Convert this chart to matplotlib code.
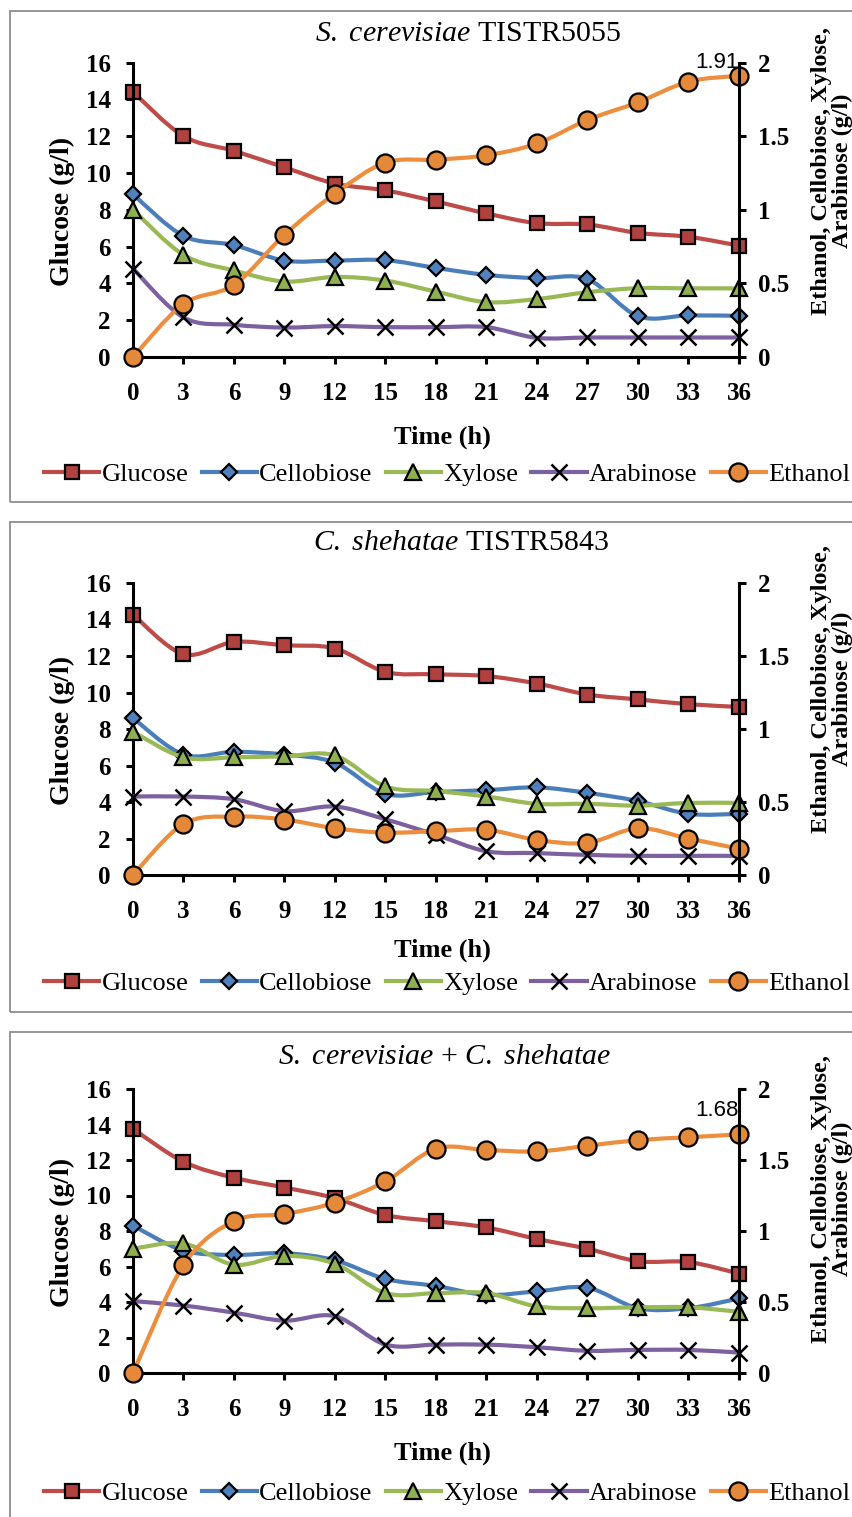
import numpy as np
import matplotlib
matplotlib.use("Agg")
import matplotlib.pyplot as plt
from matplotlib.path import Path
from matplotlib.patches import PathPatch, Rectangle
from matplotlib.lines import Line2D

plt.rcParams['font.family'] = ['Liberation Serif', 'DejaVu Serif']
plt.rcParams['mathtext.fontset'] = 'custom'
plt.rcParams['mathtext.rm'] = 'Liberation Serif'
plt.rcParams['mathtext.it'] = 'Liberation Serif:italic'

# ---- data (g/l) ----
hours = [0, 3, 6, 9, 12, 15, 18, 21, 24, 27, 30, 33, 36]

# S. cerevisiae TISTR5055
sc_glucose = [14.4, 12.0, 11.2, 10.3, 9.42, 9.05, 8.45, 7.8, 7.27, 7.2, 6.74, 6.53, 6.05]
sc_cellobiose = [8.83, 6.58, 6.08, 5.24, 5.24, 5.26, 4.84, 4.46, 4.28, 4.23, 2.22, 2.26, 2.24]
sc_xylose = [8.0, 5.55, 4.7, 4.1, 4.35, 4.15, 3.55, 2.98, 3.15, 3.52, 3.74, 3.73, 3.73]
sc_arabinose = [4.8, 2.15, 1.75, 1.6, 1.68, 1.62, 1.62, 1.62, 1.04, 1.06, 1.06, 1.06, 1.06]
sc_ethanol = [0, 0.36, 0.49, 0.83, 1.11, 1.32, 1.34, 1.37, 1.45, 1.61, 1.73, 1.87, 1.91]

# C. shehatae TISTR5843
cs_glucose = [14.27, 12.1, 12.77, 12.59, 12.41, 11.13, 11.0, 10.9, 10.49, 9.89, 9.62, 9.36, 9.21]
cs_cellobiose = [8.6, 6.6, 6.75, 6.6, 6.15, 4.45, 4.55, 4.65, 4.8, 4.5, 4.05, 3.35, 3.35]
cs_xylose = [7.85, 6.45, 6.45, 6.5, 6.55, 4.85, 4.6, 4.3, 3.9, 3.9, 3.8, 3.95, 3.95]
cs_arabinose = [4.3, 4.3, 4.15, 3.5, 3.75, 3.05, 2.2, 1.3, 1.2, 1.1, 1.05, 1.05, 1.05]
cs_ethanol = [0, 0.35, 0.40, 0.38, 0.32, 0.29, 0.30, 0.31, 0.24, 0.22, 0.32, 0.25, 0.18]

# co-culture
co_glucose = [13.75, 11.9, 11.0, 10.45, 9.85, 8.9, 8.55, 8.2, 7.55, 7.0, 6.3, 6.25, 5.6]
co_cellobiose = [8.3, 6.9, 6.65, 6.75, 6.35, 5.3, 4.9, 4.4, 4.6, 4.8, 3.65, 3.65, 4.2]
co_xylose = [7.0, 7.3, 6.1, 6.6, 6.15, 4.5, 4.5, 4.5, 3.75, 3.65, 3.7, 3.7, 3.45]
co_arabinose = [4.05, 3.8, 3.4, 2.95, 3.2, 1.6, 1.6, 1.6, 1.45, 1.25, 1.3, 1.3, 1.15]
co_ethanol = [0, 0.76, 1.07, 1.12, 1.2, 1.35, 1.58, 1.57, 1.56, 1.6, 1.64, 1.66, 1.68]

series_names = ["Glucose", "Cellobiose", "Xylose", "Arabinose", "Ethanol"]
titles = [r"$\it{S.\ cerevisiae}$ TISTR5055",
          r"$\it{C.\ shehatae}$ TISTR5843",
          r"$\it{S.\ cerevisiae}$ + $\it{C.\ shehatae}$"]
peak_labels = ["1.91", None, "1.68"]

panels_data = [
    [sc_glucose, sc_cellobiose, sc_xylose, sc_arabinose, sc_ethanol],
    [cs_glucose, cs_cellobiose, cs_xylose, cs_arabinose, cs_ethanol],
    [co_glucose, co_cellobiose, co_xylose, co_arabinose, co_ethanol],
]

# ---- styles ----
styles = [
    dict(color="#BE4B48", marker="s", ms=10.5, mfc="#B0413E", mec="black", mew=1.6),
    dict(color="#4A7EBB", marker="D", ms=8.5, mfc="#4F81BD", mec="black", mew=1.6),
    dict(color="#98B954", marker="^", ms=12, mfc="#8FB04F", mec="black", mew=1.6),
    dict(color="#7D60A0", marker="x", ms=12, mfc="black", mec="black", mew=1.8),
    dict(color="#EC8E3D", marker="o", ms=13, mfc="#E4883A", mec="black", mew=1.6),
]

# ---- layout in pixels ----
W, H = 853, 1517
AX_L, AX_R = 133, 739
layout = [
    dict(box=(11, 502), y16=62.5, y0=357, title=(468, 34), xlab=437, leg=474,
         ylab_l=211, ylab_r=171, peak_off=9.5),
    dict(box=(522, 1012), y16=583, y0=875, title=(461, 543), xlab=950, leg=983,
         ylab_l=730, ylab_r=689, peak_off=0),
    dict(box=(1032, 1519), y16=1089, y0=1373, title=(445, 1057), xlab=1453, leg=1493,
         ylab_l=1232, ylab_r=1199, peak_off=17),
]


def fx(px):
    return px / W


def fy(py):
    return 1 - py / H


def smooth_path(x, y):
    # Catmull-Rom style bezier through the data points (Excel "smoothed line")
    x = np.asarray(x, float)
    y = np.asarray(y, float)
    n = len(x)
    verts = [(x[0], y[0])]
    codes = [Path.MOVETO]
    for i in range(n - 1):
        p0 = i - 1 if i > 0 else i
        p3 = i + 2 if i + 2 < n else i + 1
        c1 = (x[i] + (x[i + 1] - x[p0]) / 6, y[i] + (y[i + 1] - y[p0]) / 6)
        c2 = (x[i + 1] - (x[p3] - x[i]) / 6, y[i + 1] - (y[p3] - y[i]) / 6)
        verts += [c1, c2, (x[i + 1], y[i + 1])]
        codes += [Path.CURVE4] * 3
    return Path(verts, codes)


def draw_series(ax, y, st, z):
    ax.add_patch(PathPatch(smooth_path(hours, y), fill=False, edgecolor=st["color"],
                           lw=3, capstyle="round", joinstyle="round", zorder=z, clip_on=False))
    ax.plot(hours, y, ls="none", marker=st["marker"], ms=st["ms"], mfc=st["mfc"],
            mec=st["mec"], mew=st["mew"], zorder=z + 0.5, clip_on=False)


fig = plt.figure(figsize=(W / 100, H / 100), dpi=100)

for k, (lay, data) in enumerate(zip(layout, panels_data)):
    top, bot = lay["box"]
    fig.patches.append(Rectangle((fx(10), fy(bot)), fx(880) - fx(10), (bot - top) / H,
                                 transform=fig.transFigure, fill=False,
                                 edgecolor="#8E8E8E", lw=1.3, clip_on=False))

    ax = fig.add_axes([fx(AX_L), fy(lay["y0"]), fx(AX_R) - fx(AX_L), (lay["y0"] - lay["y16"]) / H])
    ax2 = ax.twinx()

    for i in range(4):
        draw_series(ax, data[i], styles[i], 2 + i)
    draw_series(ax2, data[4], styles[4], 2)

    ax.set_xlim(0, 36)
    ax.set_ylim(0, 16)
    ax2.set_ylim(0, 2)
    ax.set_xticks(hours)
    ax.set_yticks(range(0, 17, 2))
    ax2.set_yticks([0, 0.5, 1, 1.5, 2])
    ax2.set_yticklabels(["0", "0.5", "1", "1.5", "2"])

    for a in (ax, ax2):
        for s in a.spines.values():
            s.set_linewidth(2.2)
        a.spines["top"].set_visible(False)
    ax.spines["right"].set_visible(False)
    ax2.spines["left"].set_visible(False)
    ax2.spines["bottom"].set_visible(False)

    ax.tick_params(axis="y", direction="out", length=5, width=2.2, labelsize=18, pad=11)
    ax.tick_params(axis="x", direction="out", length=5, width=2.2, labelsize=18, pad=13)
    ax2.tick_params(axis="y", direction="out", length=5, width=2.2, labelsize=18, pad=9)
    for lbl in ax.get_xticklabels() + ax.get_yticklabels() + ax2.get_yticklabels():
        lbl.set_fontweight("bold")

    tx, ty = lay["title"]
    fig.text(fx(tx), fy(ty), titles[k], ha="center", va="center", fontsize=21.5)
    fig.text(fx(442), fy(lay["xlab"]), "Time (h)",
             ha="center", va="center", fontsize=19, fontweight="bold")
    fig.text(fx(62), fy(lay["ylab_l"]), "Glucose (g/l)", rotation=90,
             ha="center", va="center", fontsize=20, fontweight="bold")
    fig.text(fx(832), fy(lay["ylab_r"]), "Ethanol, Cellobiose, Xylose,\nArabinose (g/l)",
             rotation=90, ha="center", va="center", fontsize=17.5, fontweight="bold",
             linespacing=0.95)

    if peak_labels[k]:
        ax2.annotate(peak_labels[k], xy=(36, data[4][-1]), xytext=(0, lay["peak_off"]),
                     textcoords="offset points", ha="right", va="center",
                     fontsize=16, family="Liberation Sans", zorder=10)

    handles = [Line2D([], [], color=st["color"], lw=3, marker=st["marker"], ms=st["ms"],
                      mfc=st["mfc"], mec=st["mec"], mew=st["mew"]) for st in styles]
    fig.legend(handles, series_names, loc="center", ncol=5, frameon=False,
               bbox_to_anchor=(fx(447), fy(lay["leg"])), fontsize=19,
               handlelength=2.1, handletextpad=0.08, columnspacing=0.5,
               borderpad=0, borderaxespad=0)

fig.savefig("out.png", dpi=100)
